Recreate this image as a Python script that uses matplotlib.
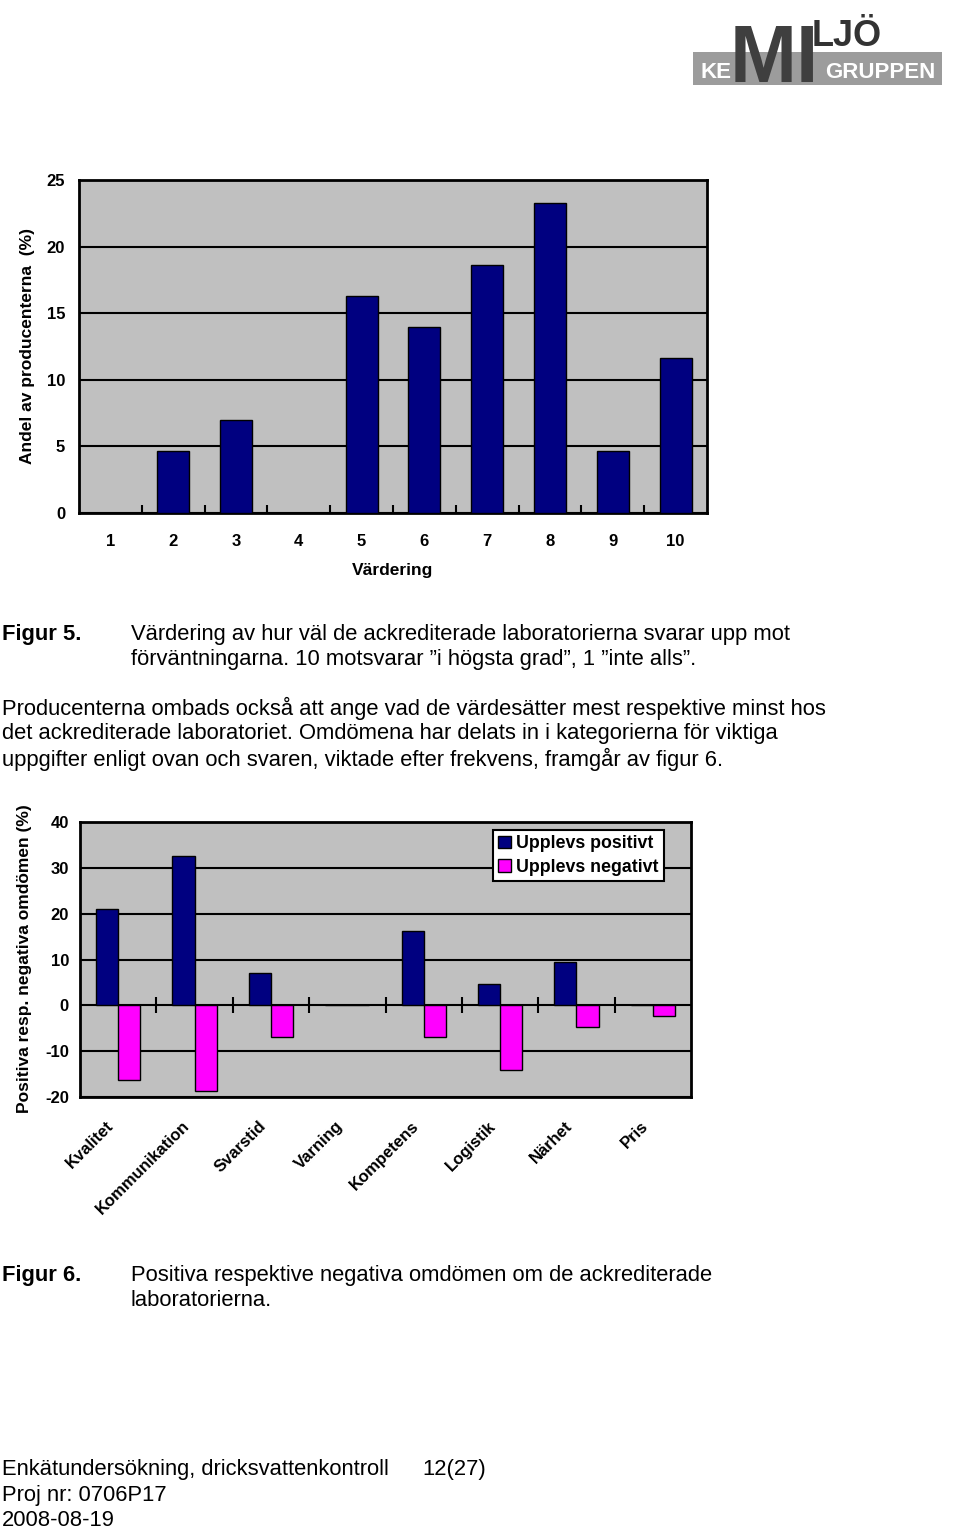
import matplotlib
matplotlib.use('Agg')
import matplotlib.pyplot as plt
import matplotlib.transforms as mtransforms
from matplotlib.patches import Rectangle
import numpy as np

plt.rcParams['font.family'] = ['Liberation Sans', 'DejaVu Sans']
plt.rcParams['axes.unicode_minus'] = False

# figur 5 data
ratings = ['1', '2', '3', '4', '5', '6', '7', '8', '9', '10']
share = [0, 4.65, 6.98, 0, 16.28, 13.95, 18.6, 23.26, 4.65, 11.63]

# figur 6 data
categories = ['Kvalitet', 'Kommunikation', 'Svarstid', 'Varning',
              'Kompetens', 'Logistik', 'Närhet', 'Pris']
positive = [21.0, 32.5, 7.0, 0, 16.3, 4.6, 9.4, 0]
negative = [-16.3, -18.6, -7.0, 0, -7.0, -14.0, -4.7, -2.3]

W, H = 960, 1530
fig = plt.figure(figsize=(W / 100, H / 100), dpi=100)
fig.patch.set_facecolor('white')


def px_rect(x0, y0, x1, y1):
    return [x0 / W, 1 - y1 / H, (x1 - x0) / W, (y1 - y0) / H]


def ftext(x, y, s, **kw):
    kw.setdefault('va', 'center')
    kw.setdefault('fontsize', 15.8)
    return fig.text(x / W, 1 - y / H, s, **kw)


navy = '#000080'
magenta = '#FF00FF'
silver = '#C0C0C0'

# ---- logo ----
fig.patches.append(Rectangle((693 / W, 1 - 85 / H), (942 - 693) / W, 33 / H,
                             transform=fig.transFigure, facecolor='#9c9c9c',
                             edgecolor='none', zorder=1))
ftext(774, 82, 'MI', fontweight='bold', fontsize=58,
      color='#3f3f3f', ha='center', va='baseline', zorder=2)
ftext(847, 46, 'LJÖ', fontweight='bold', fontsize=26,
      color='#333333', ha='center', va='baseline', zorder=2)
ftext(716, 78, 'KE', fontweight='bold', fontsize=16,
      color='white', ha='center', va='baseline', zorder=2)
ftext(880, 78, 'GRUPPEN', fontweight='bold', fontsize=16,
      color='white', ha='center', va='baseline', zorder=2)

# ---- figur 5 ----
ax1 = fig.add_axes(px_rect(79, 180, 707, 513))
x1 = np.arange(len(ratings))
ax1.set_facecolor(silver)
ax1.bar(x1, share, width=0.51, color=navy, edgecolor='black', linewidth=1, zorder=3)
ax1.set_xlim(-0.5, len(ratings) - 0.5)
ax1.set_ylim(0, 25)
ax1.set_yticks([0, 5, 10, 15, 20, 25])
ax1.yaxis.grid(True, color='black', linewidth=1.5)
ax1.set_axisbelow(True)
ax1.set_xticks(x1)
ax1.set_xticklabels(ratings)
ax1.set_xticks(x1[:-1] + 0.5, minor=True)
ax1.tick_params(axis='x', which='major', length=0, pad=15)
ax1.tick_params(axis='x', which='minor', direction='in', length=6, width=1.5)
ax1.tick_params(axis='y', length=0, pad=10)
for lab in ax1.get_xticklabels() + ax1.get_yticklabels():
    lab.set_fontweight('bold')
    lab.set_fontsize(12)
for sp in ax1.spines.values():
    sp.set_linewidth(2)
ax1.set_xlabel('Värdering', fontsize=12.5, fontweight='bold', va='center')
ax1.xaxis.set_label_coords(0.5, (513 - 571) / 333)
ax1.set_ylabel('Andel av producenterna  (%)', fontsize=12.5, fontweight='bold', va='center')
ax1.yaxis.set_label_coords((28 - 79) / 628, 0.5)

# ---- text ----
ftext(2, 634, 'Figur 5.', fontweight='bold')
ftext(131, 634, 'Värdering av hur väl de ackrediterade laboratorierna svarar upp mot')
ftext(131, 659, 'förväntningarna. 10 motsvarar ”i högsta grad”, 1 ”inte alls”.')
ftext(2, 708, 'Producenterna ombads också att ange vad de värdesätter mest respektive minst hos')
ftext(2, 733, 'det ackrediterade laboratoriet. Omdömena har delats in i kategorierna för viktiga')
ftext(2, 759, 'uppgifter enligt ovan och svaren, viktade efter frekvens, framgår av figur 6.')

# ---- figur 6 ----
ax2 = fig.add_axes(px_rect(80, 822, 691, 1097))
x2 = np.arange(len(categories))
ax2.set_facecolor(silver)
bw = 0.29
ax2.bar(x2 - bw / 2, positive, width=bw, color=navy, edgecolor='black',
        linewidth=1, zorder=3, label='Upplevs positivt')
ax2.bar(x2 + bw / 2, negative, width=bw, color=magenta, edgecolor='black',
        linewidth=1, zorder=3, label='Upplevs negativt')
ax2.set_xlim(-0.5, len(categories) - 0.5)
ax2.set_ylim(-20, 40)
ax2.set_yticks([-20, -10, 0, 10, 20, 30, 40])
ax2.yaxis.grid(True, color='black', linewidth=1.5)
ax2.set_axisbelow(True)
ax2.tick_params(axis='y', length=0, pad=8)
for lab in ax2.get_yticklabels():
    lab.set_fontweight('bold')
    lab.set_fontsize(12)
for sp in ax2.spines.values():
    sp.set_linewidth(2)
ax2.set_xticks(x2)
ax2.set_xticklabels(categories, rotation=45, ha='right', va='center',
                    rotation_mode='anchor', fontsize=12, fontweight='bold')
ax2.tick_params(axis='x', length=0, pad=19)
shift = mtransforms.ScaledTranslation(-7 / 100, 0, fig.dpi_scale_trans)
for lab in ax2.get_xticklabels():
    lab.set_transform(lab.get_transform() + shift)

# tick marks on the zero line
zero_ax = ax2.secondary_xaxis(20 / 60)
zero_ax.set_xticks(x2[:-1] + 0.5)
zero_ax.set_xticklabels([])
zero_ax.tick_params(direction='inout', length=12, width=1.5)
zero_ax.spines['bottom'].set_visible(False)
zero_ax.spines['top'].set_visible(False)

leg = ax2.legend(loc='upper right', bbox_to_anchor=((664 - 80) / 611, (1097 - 830) / 275),
                 borderaxespad=0, fancybox=False, framealpha=1, edgecolor='black',
                 prop={'weight': 'bold', 'size': 12.8}, handlelength=0.7,
                 handleheight=0.7, handletextpad=0.3, borderpad=0.3,
                 labelspacing=0.35)
leg.get_frame().set_linewidth(1.5)

ax2.set_ylabel('Positiva resp. negativa omdömen (%)', fontsize=12.5,
               fontweight='bold', va='center')
ax2.yaxis.set_label_coords((25 - 80) / 611, (1097 - 959) / 275)

ftext(2, 1276, 'Figur 6.', fontweight='bold')
ftext(131, 1276, 'Positiva respektive negativa omdömen om de ackrediterade')
ftext(131, 1301, 'laboratorierna.')

ftext(2, 1470, 'Enkätundersökning, dricksvattenkontroll')
ftext(422, 1470, '12(27)')
ftext(2, 1495, 'Proj nr: 0706P17')
ftext(2, 1520, '2008-08-19')

fig.savefig('out.png', dpi=100, facecolor='white')
